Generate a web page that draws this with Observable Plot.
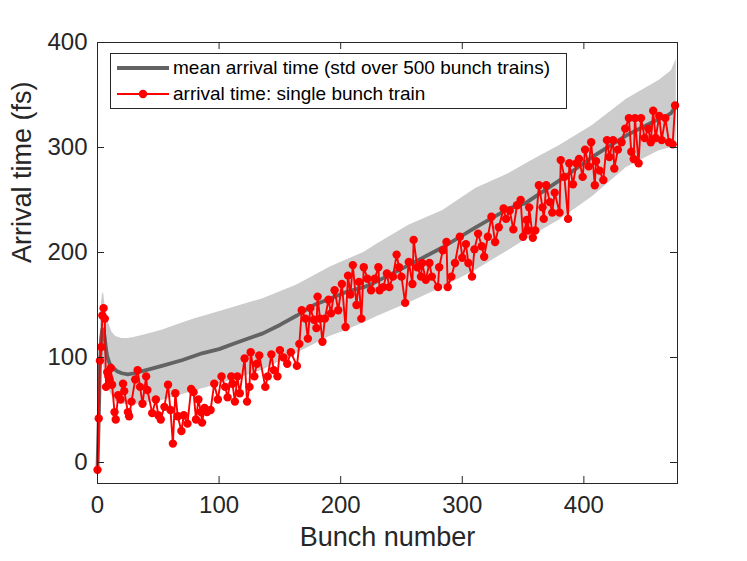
<!DOCTYPE html>
<html>
<head>
<meta charset="utf-8">
<script src="https://cdn.jsdelivr.net/npm/d3@7"></script>
<script src="https://cdn.jsdelivr.net/npm/@observablehq/plot@0.6"></script>
<style>
  html, body { margin: 0; padding: 0; background: #fff; }
  #wrap { position: relative; width: 747px; height: 561px; font-family: "Liberation Sans", Arial, sans-serif; }
  #legend { position: absolute; left: 110px; top: 53px; width: 457px; height: 56px; border: 1px solid #262626; background: #fff; box-sizing: border-box; }
  .row { position: absolute; left: 0; height: 22px; }
  .row svg { position: absolute; left: 6px; top: 0; }
  .row span { position: absolute; left: 62px; top: 0; font-size: 19px; line-height: 22px; white-space: nowrap; color: #000; }
</style>
</head>
<body>
<div id="wrap"></div>
<script>
// ---- data ----
const xTicks = [0, 100, 200, 300, 400];
const yTicks = [0, 100, 200, 300, 400];

// mean arrival time over 500 bunch trains
const meanBunch = [0,1,2,3,4,5,6,7,8,10,13,16,20,25,30,40,53,70,86,100,113,136,150,164,178,191,205,219,229,256,284,311,338,352,380,407,435,462,468,472,476];
const meanTime  = [-6,40,92,118,127,126,118,108,101,94,90,87,85,84,85,88,92,97.6,104,108,113.5,123,131,140,150,156,162.6,167,172,188,205,224,241.8,247,268.7,291,311.5,327.4,330,333,341];

// std band edges
const bandBunch = [0,1,2,3,4,5,6,7,9,12,15,20,25,30,40,53,65,80,95,113,136,164,191,205,219,230,256,284,311,338,356,380,407,435,462,472,476];
const bandUpper = [3,55,115,148,160,162,152,142,133,124,120,118,118,119,122,126,131,137,142,148,156,169,186,193,200,208,226,240,261,275,287,302,321,346,364,373,384];
const bandLower = [-12,15,60,85,95,92,85,78,70,63,58,56,55,55,57,59,63,68,73,79,88,104,120,126,133,139,152,167,183,202,215,231,253,281,297,300,302];

// single bunch train
const redBunch = [0,1,2,3,4,5,6,7,8,9,10,11,12,14,15,17,19,21,22,25,26,28,31,33,35,37,40,41,45,48,50,52,55,58,60,62,64,66,69,71,74,77,79,81,83,85,86,88,90,93,96,99,102,105,107,110,
  111,113,115,117,121,123,125,126,129,131,133,138,140,143,145,148,150,153,156,159,164,166,168,171,173,175,178,180,181,183,185,187,190,192,195,198,201,204,206,208,210,213,215,217,219,222,225,
  228,231,232,235,238,240,243,246,248,250,253,256,259,260,263,266,267,270,273,275,280,281,284,287,288,291,294,298,300,303,305,308,310,313,316,318,321,324,327,330,334,336,339,342,345,348,350,353,
  354,355,358,360,363,366,367,369,372,374,376,380,381,384,387,388,391,394,396,399,401,404,406,409,410,413,416,419,421,424,425,428,431,434,437,439,441,442,445,447,450,453,455,457,459,462,464,467,470,473,475];
const redTime = [-7,42,97,110,140,147,137,72,86,82,79,90,74,48,41,64,60,75,68,48,44,58,79,88,72,56,82,69,47,60,45,41,53,74,50,18,66,44,30,45,37,70,67,41,60,48,38,52,48,50,75,60,82,72,62,82,
  75,58,82,66,99,58,72,105,82,94,102,72,82,103,88,82,107,100,94,105,92,113,145,137,118,147,136,128,158,137,115,137,155,142,164,145,170,129,178,160,188,150,172,137,186,175,164,
  175,186,164,167,180,167,177,198,186,177,152,191,170,212,186,177,190,174,190,177,167,186,202,210,167,177,190,215,195,208,190,177,203,218,206,196,215,234,210,224,242,232,240,222,245,250,215,231,
  221,243,214,221,264,243,232,264,248,238,257,238,288,272,232,285,265,285,289,272,298,282,305,264,287,278,269,307,291,307,280,298,305,318,328,296,289,328,285,328,309,318,305,335,309,330,307,328,305,303,340];

// ---- build tables ----
const meanData = meanBunch.map((b, i) => ({b, t: meanTime[i]}));
const bandData = bandBunch.map((b, i) => ({b, lo: bandLower[i], hi: bandUpper[i]}));
const redData  = redBunch.map((b, i) => ({b, t: redTime[i]}));

const W = 747, H = 561;
const mL = 97, mR = 70, mT = 42, mB = 78;
const fw = W - mL - mR, fh = H - mT - mB, tl = 7;
const axisColor = "#262626";

const chart = Plot.plot({
  width: W, height: H,
  marginLeft: mL, marginRight: mR, marginTop: mT, marginBottom: mB,
  style: {fontFamily: "'Liberation Sans', Arial, sans-serif", fontSize: "24px", color: axisColor, background: "#fff"},
  x: {domain: [0, 477], ticks: xTicks, label: null},
  y: {domain: [-20, 400], ticks: yTicks, label: null},
  marks: [
    Plot.areaY(bandData, {x: "b", y1: "lo", y2: "hi", fill: "#cccccc", curve: "linear"}),
    Plot.line(meanData, {x: "b", y: "t", stroke: "#636363", strokeWidth: 3.8, curve: "linear"}),
    Plot.line(redData, {x: "b", y: "t", stroke: "#ff0000", strokeWidth: 1.9, curve: "linear"}),
    Plot.dot(redData, {x: "b", y: "t", r: 4.2, fill: "#ff0000", stroke: "none"}),
    // inward ticks (MATLAB style) on all four sides
    Plot.ruleX(xTicks, {x: d => d, insetTop: fh - tl, stroke: axisColor}),
    Plot.ruleX(xTicks, {x: d => d, insetBottom: fh - tl, stroke: axisColor}),
    Plot.ruleY(yTicks, {y: d => d, insetRight: fw - tl, stroke: axisColor}),
    Plot.ruleY(yTicks, {y: d => d, insetLeft: fw - tl, stroke: axisColor}),
    Plot.axisX(xTicks, {tickSize: 0, tickPadding: 12, fontSize: 24}),
    Plot.axisY(yTicks, {tickSize: 0, tickPadding: 10, fontSize: 24}),
    Plot.frame({stroke: axisColor, strokeWidth: 1}),
    Plot.text(["Bunch number"], {frameAnchor: "bottom", dy: 62, fontSize: 27, fill: axisColor}),
    Plot.text(["Arrival time (fs)"], {frameAnchor: "left", dx: -75, rotate: -90, fontSize: 27, fill: axisColor})
  ]
});

const wrap = document.getElementById("wrap");
wrap.appendChild(chart);

// legend inside the axes
const legend = document.createElement("div");
legend.id = "legend";
legend.innerHTML = `
  <div class="row" style="top:3px;">
    <svg width="54" height="22"><line x1="0" y1="11" x2="52" y2="11" stroke="#636363" stroke-width="3.8"/></svg>
    <span>mean arrival time (std over 500 bunch trains)</span>
  </div>
  <div class="row" style="top:29px;">
    <svg width="54" height="22"><line x1="0" y1="11" x2="52" y2="11" stroke="#ff0000" stroke-width="1.9"/><circle cx="26" cy="11" r="4.2" fill="#ff0000"/></svg>
    <span>arrival time: single bunch train</span>
  </div>`;
wrap.appendChild(legend);
</script>
</body>
</html>
